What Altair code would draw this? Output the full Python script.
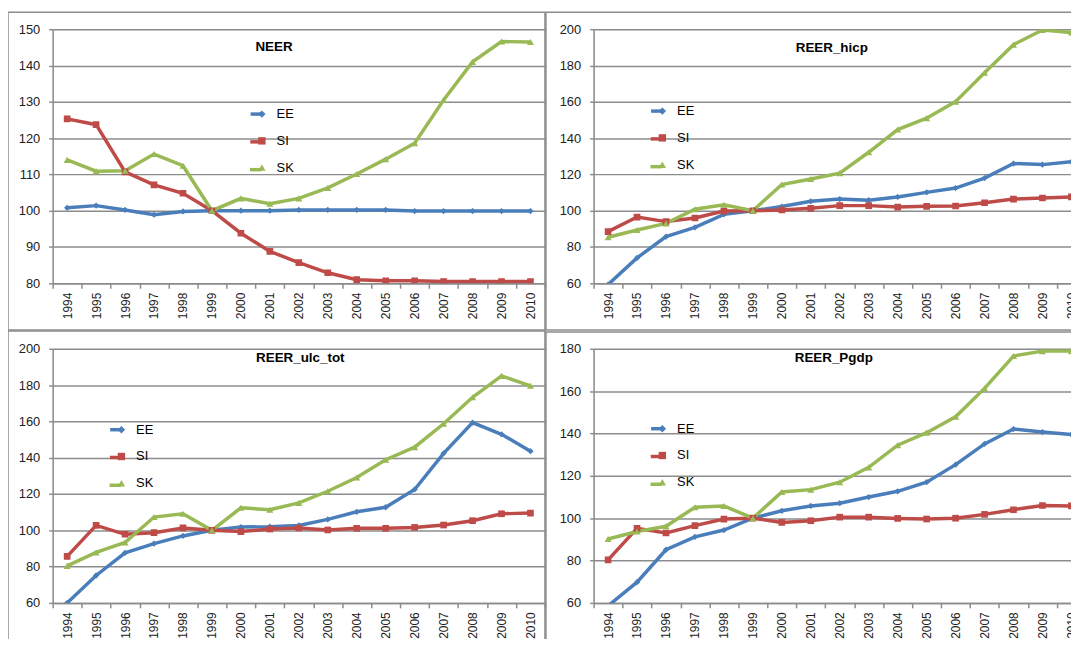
import altair as alt
import pandas as pd

FONT = "Liberation Sans"
GRID = "#8c8c8c"

years = list(range(1994, 2011))
series = ["EE", "SI", "SK"]
colors = ["#4a7ebb", "#be4b48", "#98b954"]
shapes = ["diamond", "square", "triangle-up"]
marker_sizes = [40, 50, 60]

# NEER
neer_ee = [100.8, 101.4, 100.2, 98.9, 99.8, 100.0, 100.0, 100.0, 100.2, 100.2, 100.2, 100.2, 99.9, 99.9, 99.9, 99.9, 99.9]
neer_si = [125.3, 123.7, 110.7, 107.1, 104.8, 100.0, 93.8, 88.8, 85.7, 82.9, 81.0, 80.7, 80.7, 80.5, 80.5, 80.5, 80.5]
neer_sk = [114.0, 110.9, 111.0, 115.6, 112.4, 100.0, 103.4, 101.9, 103.4, 106.3, 110.1, 114.2, 118.6, 130.5, 141.0, 146.6, 146.5]
# REER_hicp
hicp_ee = [59.3, 74.0, 85.7, 90.8, 98.0, 100.0, 102.3, 105.2, 106.4, 105.8, 107.6, 110.1, 112.5, 118.0, 126.0, 125.4, 127.0]
hicp_si = [88.5, 96.5, 94.0, 96.0, 99.8, 100.0, 100.4, 101.3, 102.8, 102.8, 102.0, 102.4, 102.6, 104.4, 106.4, 107.0, 107.6]
hicp_sk = [85.4, 89.4, 93.0, 100.8, 103.3, 100.0, 114.4, 117.5, 120.7, 132.2, 144.7, 151.0, 160.1, 176.0, 191.5, 199.6, 198.2]
# REER_ulc_tot
ulc_ee = [60.0, 75.1, 87.6, 92.7, 96.9, 100.0, 101.8, 102.0, 102.7, 106.0, 110.2, 112.7, 122.5, 142.4, 159.3, 152.9, 143.6]
ulc_si = [85.6, 102.7, 97.8, 98.7, 101.3, 100.0, 99.3, 100.7, 101.3, 100.2, 101.1, 101.1, 101.6, 102.9, 105.3, 109.1, 109.5]
ulc_sk = [80.4, 87.8, 93.3, 107.3, 109.1, 100.0, 112.4, 111.3, 115.1, 121.5, 129.1, 138.9, 145.8, 158.7, 173.3, 185.1, 179.6]
# REER_Pgdp
pgdp_ee = [58.6, 69.8, 85.1, 91.2, 94.4, 100.0, 103.5, 105.8, 107.1, 110.0, 112.7, 117.0, 125.3, 135.1, 142.1, 140.7, 139.5]
pgdp_si = [80.3, 95.2, 93.0, 96.5, 99.6, 100.0, 98.0, 98.8, 100.5, 100.5, 99.9, 99.6, 100.0, 101.8, 104.0, 106.0, 105.8]
pgdp_sk = [90.2, 93.7, 96.2, 105.2, 105.8, 100.0, 112.4, 113.5, 117.0, 124.0, 134.5, 140.4, 147.9, 161.3, 176.6, 178.9, 178.9]

titles = ["NEER", "REER_hicp", "REER_ulc_tot", "REER_Pgdp"]

PW, PH = 496, 256
LINE_SYM = 400        # line legend symbol box (20 px)
MARK_SYM = 55         # marker legend symbol size

panels_cfg = [
    dict(title=titles[0], data=(neer_ee, neer_si, neer_sk), dom=(80, 150), step=10,
         leg=(208, 79), tpos=(223, 18), box=(-45, 496, -17, 303)),
    dict(title=titles[1], data=(hicp_ee, hicp_si, hicp_sk), dom=(60, 200), step=20,
         leg=(66.5, 76), tpos=(240, 19), box=(-48, 530, -17, 303)),
    dict(title=titles[2], data=(ulc_ee, ulc_si, ulc_sk), dom=(60, 200), step=20,
         leg=(66.5, 75), tpos=(249.5, 9.7), box=(-45, 496, -18, 330)),
    dict(title=titles[3], data=(pgdp_ee, pgdp_si, pgdp_sk), dom=(60, 180), step=20,
         leg=(66.5, 74), tpos=(242, 9), box=(-48, 530, -17, 330)),
]


def panel(cfg):
    ee, si, sk = cfg["data"]
    df = pd.DataFrame({
        "year": years * 3,
        "series": [s for s in series for _ in years],
        "value": ee + si + sk,
    })
    lo, hi = cfg["dom"]
    cx, ly = cfg["leg"]
    dl = LINE_SYM ** 0.5
    dm = MARK_SYM ** 0.5
    common = dict(orient="none", title=None, padding=0, rowPadding=13,
                  labelFont=FONT, labelFontSize=13, symbolOpacity=1)
    line_legend = alt.Legend(
        legendX=cx - dl / 2, legendY=ly, symbolSize=LINE_SYM,
        symbolType="M-1.6,0H1.6", symbolStrokeWidth=3.5,
        labelOffset=2, labelExpr="''", **common)
    mark_legend = alt.Legend(
        legendX=cx - dm / 2, legendY=ly, symbolSize=MARK_SYM,
        symbolStrokeWidth=0, labelOffset=18 - dm / 2 - 6, labelColor="#000", **common)
    x = alt.X("year:O", bandPosition=0.5,
              scale=alt.Scale(type="band", paddingInner=0, paddingOuter=0),
              axis=alt.Axis(tickBand="extent", grid=False, labelAngle=270,
                            tickSize=5, tickColor=GRID, tickWidth=1.5,
                            domainColor=GRID, domainWidth=1.5,
                            labelPadding=4, labelFont=FONT, labelFontSize=12,
                            labelColor="#222"),
              title=None)
    y = alt.Y("value:Q", scale=alt.Scale(domain=[lo, hi], nice=False, zero=False),
              axis=alt.Axis(values=list(range(lo, hi + 1, cfg["step"])),
                            grid=True, gridColor=GRID, gridWidth=1.5,
                            domainColor=GRID, domainWidth=1.5,
                            tickColor=GRID, tickWidth=1.5, tickSize=4,
                            labelPadding=9, labelFont=FONT, labelFontSize=13,
                            labelColor="#222"),
              title=None)
    lines = alt.Chart(df).mark_line(strokeWidth=3.5, clip=True).encode(
        x=x, y=y,
        stroke=alt.Stroke("series:N", scale=alt.Scale(domain=series, range=colors),
                          legend=line_legend),
    )
    pts = alt.Chart(df).mark_point(filled=True, opacity=1, clip=True).encode(
        x=x, y=y,
        fill=alt.Fill("series:N", scale=alt.Scale(range=colors), legend=mark_legend),
        shape=alt.Shape("series:N", scale=alt.Scale(range=shapes), legend=mark_legend),
        size=alt.Size("series:N", scale=alt.Scale(domain=series, range=marker_sizes), legend=None),
    )
    one = alt.Data(values=[{}])
    b = cfg["box"]
    border = alt.Chart(one).mark_rect(
        fillOpacity=0, stroke=GRID, strokeWidth=1.5
    ).encode(x=alt.value(b[0]), x2=alt.value(b[1]), y=alt.value(b[2]), y2=alt.value(b[3]))
    title = alt.Chart(one).mark_text(
        text=cfg["title"], font=FONT, fontSize=13.5, fontWeight="bold", color="#000",
        align="center", baseline="middle"
    ).encode(x=alt.value(cfg["tpos"][0]), y=alt.value(cfg["tpos"][1]))
    return alt.layer(border, lines, pts, title).properties(width=PW, height=PH)


chart = alt.concat(*[panel(c) for c in panels_cfg], columns=2, spacing=-3, align="each").resolve_scale(
    stroke="independent", fill="independent", shape="independent", size="independent"
).resolve_legend(stroke="independent", fill="independent", shape="independent").properties(
    autosize=alt.AutoSizeParams(type="none"),
    padding={"left": 45, "top": 19, "right": 1026, "bottom": 611.75},
).configure_view(strokeWidth=0).configure(font=FONT, background="white")

chart.save("out.html", embed_options={"renderer": "svg", "actions": False})
